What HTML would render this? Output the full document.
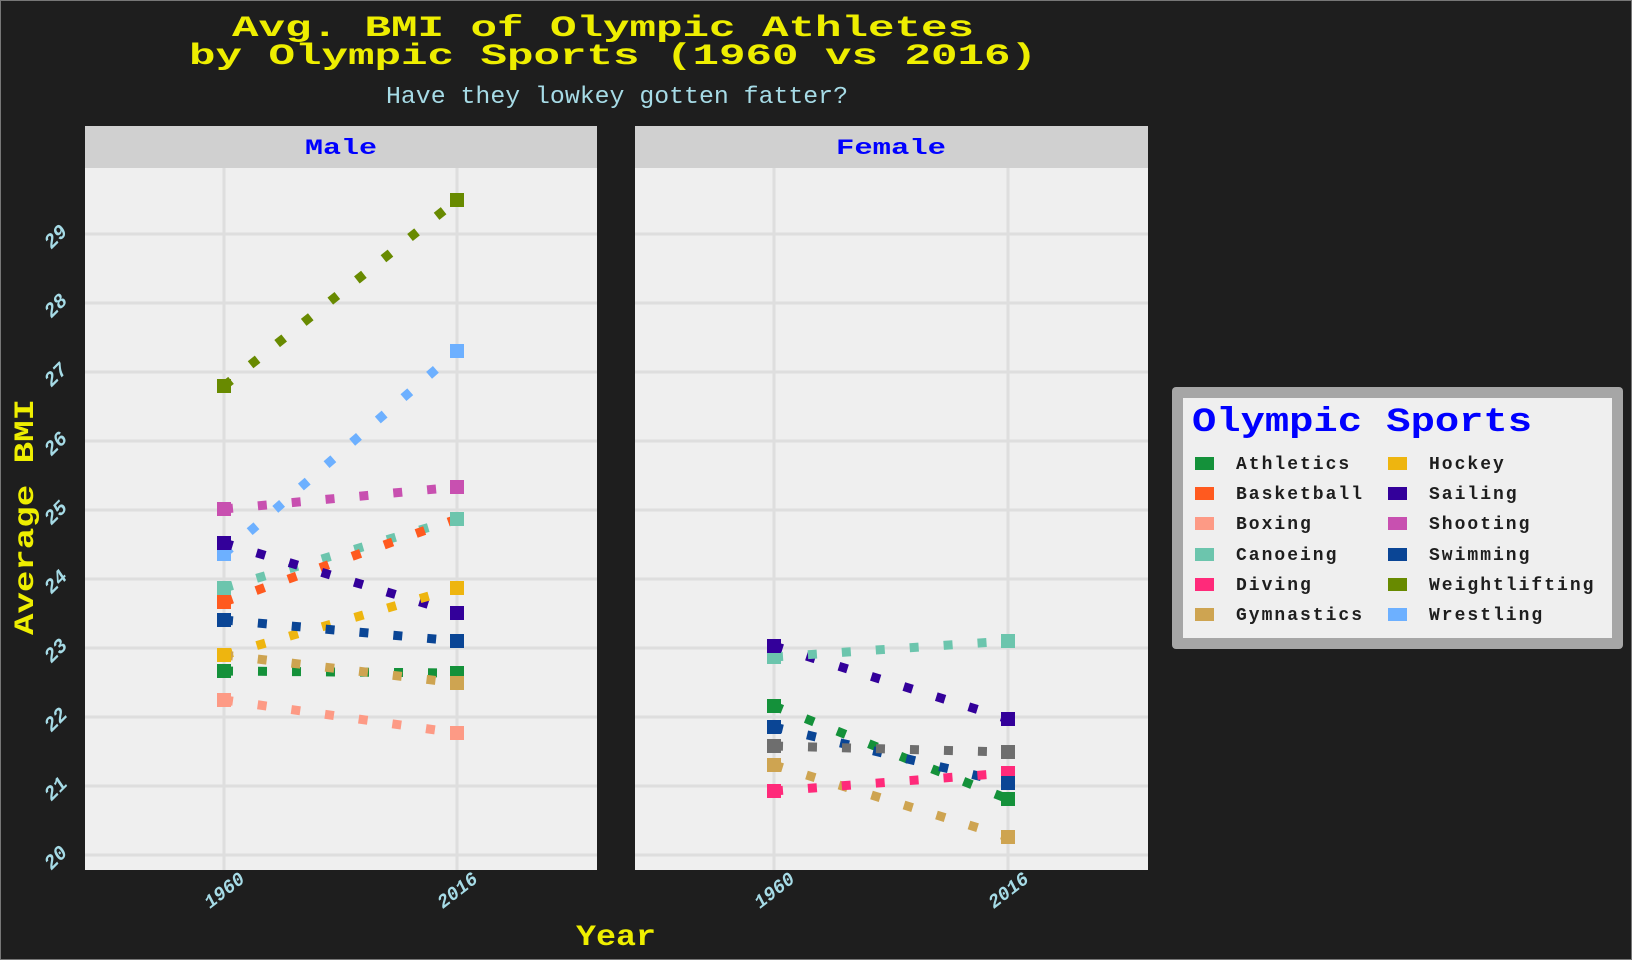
<!DOCTYPE html>
<html><head><meta charset="utf-8"><style>
html,body{margin:0;padding:0;background:#1e1e1e;}
svg{display:block;}
text{font-family:"Liberation Mono",monospace;}
</style></head><body>
<svg width="1632" height="960" viewBox="0 0 1632 960" xmlns="http://www.w3.org/2000/svg">
<rect x="0" y="0" width="1632" height="960" fill="#1e1e1e"/>
<rect x="0.5" y="0.5" width="1631" height="959" fill="none" stroke="#777" stroke-width="1"/>
<!-- titles -->
<text x="232" y="36" font-size="30" font-weight="bold" fill="#eeee00" textLength="742" lengthAdjust="spacingAndGlyphs">Avg. BMI of Olympic Athletes</text>
<text x="189" y="64" font-size="30" font-weight="bold" fill="#eeee00" textLength="848" lengthAdjust="spacingAndGlyphs">by Olympic Sports (1960 vs 2016)</text>
<text x="386" y="103" font-size="24" fill="#a6dbe6" textLength="462" lengthAdjust="spacingAndGlyphs">Have they lowkey gotten fatter?</text>

<!-- panels -->
<g>
<rect x="85" y="126" width="512" height="42" fill="#d0d0d0"/>
<rect x="85" y="168" width="512" height="702" fill="#efefef"/>
<rect x="635" y="126" width="513" height="42" fill="#d0d0d0"/>
<rect x="635" y="168" width="513" height="702" fill="#efefef"/>
<text x="341" y="154" font-size="22" font-weight="bold" fill="#0000ff" text-anchor="middle" textLength="72" lengthAdjust="spacingAndGlyphs">Male</text>
<text x="891" y="154" font-size="22" font-weight="bold" fill="#0000ff" text-anchor="middle" textLength="110" lengthAdjust="spacingAndGlyphs">Female</text>
</g>
<g stroke="#dedede" stroke-width="3">
<line x1="85" x2="597" y1="855" y2="855"/><line x1="85" x2="597" y1="786" y2="786"/><line x1="85" x2="597" y1="717" y2="717"/><line x1="85" x2="597" y1="648" y2="648"/><line x1="85" x2="597" y1="579" y2="579"/><line x1="85" x2="597" y1="510" y2="510"/><line x1="85" x2="597" y1="441" y2="441"/><line x1="85" x2="597" y1="372" y2="372"/><line x1="85" x2="597" y1="303" y2="303"/><line x1="85" x2="597" y1="234" y2="234"/>
<line x1="635" x2="1148" y1="855" y2="855"/><line x1="635" x2="1148" y1="786" y2="786"/><line x1="635" x2="1148" y1="717" y2="717"/><line x1="635" x2="1148" y1="648" y2="648"/><line x1="635" x2="1148" y1="579" y2="579"/><line x1="635" x2="1148" y1="510" y2="510"/><line x1="635" x2="1148" y1="441" y2="441"/><line x1="635" x2="1148" y1="372" y2="372"/><line x1="635" x2="1148" y1="303" y2="303"/><line x1="635" x2="1148" y1="234" y2="234"/>
<line x1="224" x2="224" y1="168" y2="870"/><line x1="457" x2="457" y1="168" y2="870"/>
<line x1="774" x2="774" y1="168" y2="870"/><line x1="1008" x2="1008" y1="168" y2="870"/>
</g>

<!-- y tick labels -->
<g font-size="20" font-weight="bold" fill="#a6dbe6" font-style="italic" text-anchor="middle">
<text transform="translate(60,862) rotate(-45)">20</text>
<text transform="translate(60,793) rotate(-45)">21</text>
<text transform="translate(60,724) rotate(-45)">22</text>
<text transform="translate(60,655) rotate(-45)">23</text>
<text transform="translate(60,586) rotate(-45)">24</text>
<text transform="translate(60,517) rotate(-45)">25</text>
<text transform="translate(60,448) rotate(-45)">26</text>
<text transform="translate(60,379) rotate(-45)">27</text>
<text transform="translate(60,310) rotate(-45)">28</text>
<text transform="translate(60,241) rotate(-45)">29</text>
</g>
<g font-size="19" font-weight="bold" fill="#a6dbe6" font-style="italic" text-anchor="middle">
<text transform="translate(228,895) rotate(-38)">1960</text>
<text transform="translate(461,895) rotate(-38)">2016</text>
<text transform="translate(778,895) rotate(-38)">1960</text>
<text transform="translate(1012,895) rotate(-38)">2016</text>
</g>
<text x="616" y="945" font-size="30" font-weight="bold" fill="#eeee00" text-anchor="middle" textLength="80" lengthAdjust="spacingAndGlyphs">Year</text>
<text transform="translate(33,517) rotate(-90)" font-size="28" font-weight="bold" fill="#eeee00" text-anchor="middle" textLength="236" lengthAdjust="spacingAndGlyphs">Average BMI</text>

<!-- series -->
<g stroke-width="9" stroke-dasharray="9 25" fill="none">
<line x1="224" y1="386" x2="457" y2="200" stroke="#688a00"/>
<line x1="224" y1="554" x2="457" y2="351" stroke="#6db0ff"/>
<line x1="224" y1="509" x2="457" y2="487" stroke="#c850b0"/>
<line x1="224" y1="588" x2="457" y2="519" stroke="#6cc5ad"/>
<line x1="224" y1="602" x2="457" y2="519" stroke="#ff5a1f"/>
<line x1="224" y1="543" x2="457" y2="613" stroke="#33009a"/>
<line x1="224" y1="655" x2="457" y2="588" stroke="#eeb50f"/>
<line x1="224" y1="620" x2="457" y2="641" stroke="#0a4595"/>
<line x1="224" y1="671" x2="457" y2="673" stroke="#14913a"/>
<line x1="224" y1="655" x2="457" y2="683" stroke="#cea451"/>
<line x1="224" y1="700" x2="457" y2="733" stroke="#fd9a85"/>
<line x1="774" y1="646" x2="1008" y2="719" stroke="#33009a"/>
<line x1="774" y1="657" x2="1008" y2="641" stroke="#6cc5ad"/>
<line x1="774" y1="706" x2="1008" y2="799" stroke="#14913a"/>
<line x1="774" y1="727" x2="1008" y2="783" stroke="#0a4595"/>
<line x1="774" y1="746" x2="1008" y2="752" stroke="#6e6e6e"/>
<line x1="774" y1="765" x2="1008" y2="837" stroke="#cea451"/>
<line x1="774" y1="791" x2="1008" y2="773" stroke="#ff2a7a"/>
</g>
<g>
<rect x="217" y="379" width="14" height="14" fill="#688a00"/><rect x="450" y="193" width="14" height="14" fill="#688a00"/>
<rect x="217" y="547" width="14" height="14" fill="#6db0ff"/><rect x="450" y="344" width="14" height="14" fill="#6db0ff"/>
<rect x="217" y="502" width="14" height="14" fill="#c850b0"/><rect x="450" y="480" width="14" height="14" fill="#c850b0"/>
<rect x="217" y="595" width="14" height="14" fill="#ff5a1f"/><rect x="450" y="512" width="14" height="14" fill="#ff5a1f"/>
<rect x="217" y="581" width="14" height="14" fill="#6cc5ad"/><rect x="450" y="512" width="14" height="14" fill="#6cc5ad"/>
<rect x="217" y="536" width="14" height="14" fill="#33009a"/><rect x="450" y="606" width="14" height="14" fill="#33009a"/>
<rect x="217" y="648" width="14" height="14" fill="#eeb50f"/><rect x="450" y="581" width="14" height="14" fill="#eeb50f"/>
<rect x="217" y="613" width="14" height="14" fill="#0a4595"/><rect x="450" y="634" width="14" height="14" fill="#0a4595"/>
<rect x="217" y="664" width="14" height="14" fill="#14913a"/><rect x="450" y="666" width="14" height="14" fill="#14913a"/>
<rect x="450" y="676" width="14" height="14" fill="#cea451"/>
<rect x="217" y="693" width="14" height="14" fill="#fd9a85"/><rect x="450" y="726" width="14" height="14" fill="#fd9a85"/>

<rect x="767" y="650" width="14" height="14" fill="#6cc5ad"/><rect x="1001" y="634" width="14" height="14" fill="#6cc5ad"/>
<rect x="767" y="639" width="14" height="14" fill="#33009a"/><rect x="1001" y="712" width="14" height="14" fill="#33009a"/>
<rect x="767" y="699" width="14" height="14" fill="#14913a"/><rect x="1001" y="792" width="14" height="14" fill="#14913a"/>
<rect x="767" y="720" width="14" height="14" fill="#0a4595"/>
<rect x="767" y="739" width="14" height="14" fill="#6e6e6e"/><rect x="1001" y="745" width="14" height="14" fill="#6e6e6e"/>
<rect x="767" y="758" width="14" height="14" fill="#cea451"/><rect x="1001" y="830" width="14" height="14" fill="#cea451"/>
<rect x="767" y="784" width="14" height="14" fill="#ff2a7a"/><rect x="1001" y="766" width="14" height="14" fill="#ff2a7a"/>
<rect x="1001" y="776" width="14" height="14" fill="#0a4595"/>
</g>

<!-- legend -->
<rect x="1172" y="387" width="451" height="262" rx="4" fill="#a6a6a6"/>
<rect x="1183" y="398" width="429" height="240" fill="#efefef"/>
<text x="1192" y="431" font-size="34" font-weight="bold" fill="#0000ff" textLength="340" lengthAdjust="spacingAndGlyphs">Olympic Sports</text>
<g font-size="18" font-weight="bold" fill="#1e1e1e" letter-spacing="2">
<rect x="1195" y="457" width="19" height="13" fill="#14913a"/><text x="1236" y="469">Athletics</text>
<rect x="1195" y="487" width="19" height="13" fill="#ff5a1f"/><text x="1236" y="499">Basketball</text>
<rect x="1195" y="517" width="19" height="13" fill="#fd9a85"/><text x="1236" y="529">Boxing</text>
<rect x="1195" y="548" width="19" height="13" fill="#6cc5ad"/><text x="1236" y="560">Canoeing</text>
<rect x="1195" y="578" width="19" height="13" fill="#ff2a7a"/><text x="1236" y="590">Diving</text>
<rect x="1195" y="608" width="19" height="13" fill="#cea451"/><text x="1236" y="620">Gymnastics</text>
<rect x="1388" y="457" width="19" height="13" fill="#eeb50f"/><text x="1429" y="469">Hockey</text>
<rect x="1388" y="487" width="19" height="13" fill="#33009a"/><text x="1429" y="499">Sailing</text>
<rect x="1388" y="517" width="19" height="13" fill="#c850b0"/><text x="1429" y="529">Shooting</text>
<rect x="1388" y="548" width="19" height="13" fill="#0a4595"/><text x="1429" y="560">Swimming</text>
<rect x="1388" y="578" width="19" height="13" fill="#688a00"/><text x="1429" y="590">Weightlifting</text>
<rect x="1388" y="608" width="19" height="13" fill="#6db0ff"/><text x="1429" y="620">Wrestling</text>
</g>
</svg>
</body></html>
